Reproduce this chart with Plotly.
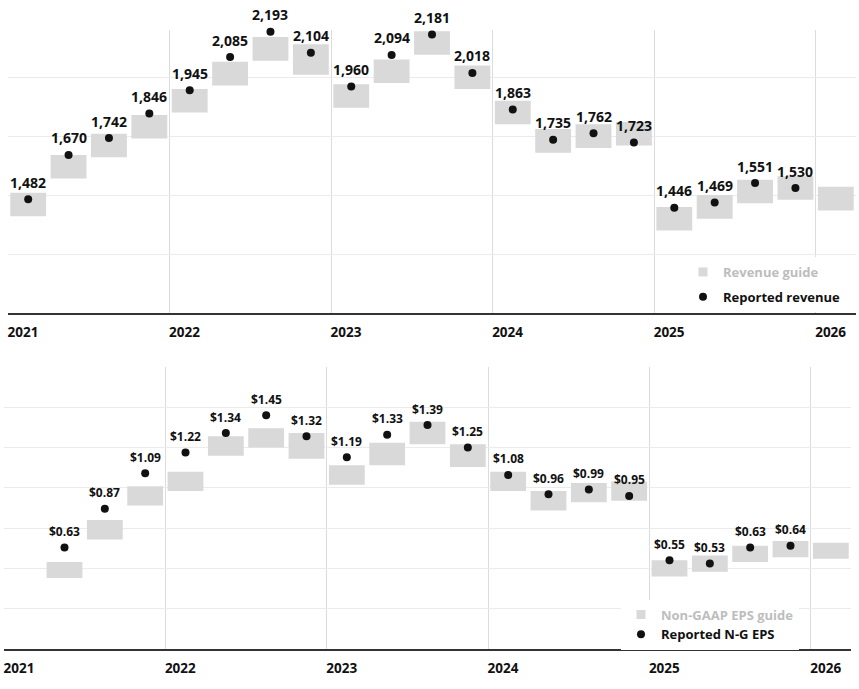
import plotly.graph_objects as go

# ---- Quarterly revenue ($M): guidance range and reported result ----
rev_quarters = [
    "Q1 2021", "Q2 2021", "Q3 2021", "Q4 2021",
    "Q1 2022", "Q2 2022", "Q3 2022", "Q4 2022",
    "Q1 2023", "Q2 2023", "Q3 2023", "Q4 2023",
    "Q1 2024", "Q2 2024", "Q3 2024", "Q4 2024",
    "Q1 2025", "Q2 2025", "Q3 2025", "Q4 2025",
    "Q1 2026",
]
rev_guide_low = [1410, 1570, 1660, 1740, 1850, 1965, 2070, 2010, 1870, 1975, 2095,
                 1950, 1800, 1680, 1700, 1710, 1350, 1400, 1465, 1480, 1435]
rev_guide_high = [1510, 1670, 1760, 1840, 1950, 2065, 2170, 2140, 1970, 2075, 2195,
                  2050, 1900, 1780, 1800, 1810, 1450, 1500, 1565, 1580, 1535]
rev_reported = [1482, 1670, 1742, 1846, 1945, 2085, 2193, 2104, 1960, 2094, 2181,
                2018, 1863, 1735, 1762, 1723, 1446, 1469, 1551, 1530]

# ---- Quarterly non-GAAP EPS ($): guidance range and reported result ----
eps_quarters = [
    "Q2 2021", "Q3 2021", "Q4 2021",
    "Q1 2022", "Q2 2022", "Q3 2022", "Q4 2022",
    "Q1 2023", "Q2 2023", "Q3 2023", "Q4 2023",
    "Q1 2024", "Q2 2024", "Q3 2024", "Q4 2024",
    "Q1 2025", "Q2 2025", "Q3 2025", "Q4 2025",
    "Q1 2026",
]
eps_guide_low = [0.44, 0.68, 0.89, 0.98, 1.20, 1.25, 1.18, 1.02, 1.14, 1.27,
                 1.13, 0.98, 0.86, 0.91, 0.92, 0.45, 0.48, 0.54, 0.57, 0.56]
eps_guide_high = [0.54, 0.80, 1.01, 1.10, 1.32, 1.37, 1.34, 1.14, 1.28, 1.41,
                  1.27, 1.10, 0.98, 1.03, 1.04, 0.55, 0.58, 0.64, 0.67, 0.66]
eps_reported = [0.63, 0.87, 1.09, 1.22, 1.34, 1.45, 1.32, 1.19, 1.33, 1.39,
                1.25, 1.08, 0.96, 0.99, 0.95, 0.55, 0.53, 0.63, 0.64]

years = [2021, 2022, 2023, 2024, 2025, 2026]
year_labels = ["2021", "2022", "2023", "2024", "2025", "2026"]


def quarter_mid(label):
    """Map 'Qn YYYY' to the middle of that quarter on a fractional-year axis."""
    q, y = label.split()
    return int(y) + (int(q[1]) - 1) * 0.25 + 0.125


FONT = "Open Sans"
GUIDE_GRAY = "#d9d9d9"
LEGEND_GRAY = "#bdbdbd"
INK = "#111111"
W, H = 859, 689

rev_x = [quarter_mid(q) for q in rev_quarters]
eps_x = [quarter_mid(q) for q in eps_quarters]

fig = go.Figure()

# Revenue guidance ranges as floating bars
fig.add_trace(go.Bar(
    x=rev_x, base=rev_guide_low,
    y=[h - l for h, l in zip(rev_guide_high, rev_guide_low)],
    width=0.222, marker=dict(color=GUIDE_GRAY, line=dict(width=0)),
    showlegend=False, xaxis="x", yaxis="y", hoverinfo="skip",
))
fig.add_trace(go.Scatter(
    x=rev_x[:len(rev_reported)], y=rev_reported, mode="markers",
    marker=dict(color=INK, size=8),
    cliponaxis=False, showlegend=False, xaxis="x", yaxis="y",
))
# legend entries for the revenue panel
fig.add_trace(go.Scatter(
    x=[None], y=[None], mode="markers",
    marker=dict(symbol="square", color=GUIDE_GRAY, size=9),
    name=f"<span style='color:{LEGEND_GRAY}'>Revenue guide</span>",
    legend="legend", legendgroup="g1", xaxis="x", yaxis="y",
))
fig.add_trace(go.Scatter(
    x=[None], y=[None], mode="markers",
    marker=dict(symbol="circle", color=INK, size=8),
    name="Reported revenue", legend="legend", legendgroup="g2",
    xaxis="x", yaxis="y",
))

# EPS guidance ranges as floating bars
fig.add_trace(go.Bar(
    x=eps_x, base=eps_guide_low,
    y=[h - l for h, l in zip(eps_guide_high, eps_guide_low)],
    width=0.222, marker=dict(color=GUIDE_GRAY, line=dict(width=0)),
    showlegend=False, xaxis="x2", yaxis="y2", hoverinfo="skip",
))
fig.add_trace(go.Scatter(
    x=eps_x[:len(eps_reported)], y=eps_reported, mode="markers",
    marker=dict(color=INK, size=8),
    cliponaxis=False, showlegend=False, xaxis="x2", yaxis="y2",
))
fig.add_trace(go.Scatter(
    x=[None], y=[None], mode="markers",
    marker=dict(symbol="square", color=GUIDE_GRAY, size=9),
    name=f"<span style='color:{LEGEND_GRAY}'>Non-GAAP EPS guide</span>",
    legend="legend2", xaxis="x2", yaxis="y2",
))
fig.add_trace(go.Scatter(
    x=[None], y=[None], mode="markers",
    marker=dict(symbol="circle", color=INK, size=8),
    name="Reported N-G EPS", legend="legend2", xaxis="x2", yaxis="y2",
))

# value labels above each reported point
annotations = []
for x, v in zip(rev_x, rev_reported):
    annotations.append(dict(
        x=x, y=v, xref="x", yref="y", text=f"{v:,}", showarrow=False,
        yanchor="middle", yshift=17,
        font=dict(family=FONT, size=14, color=INK, weight=700),
    ))
for x, v in zip(eps_x, eps_reported):
    annotations.append(dict(
        x=x, y=v, xref="x2", yref="y2", text=f"${v:.2f}", showarrow=False,
        yanchor="middle", yshift=16,
        font=dict(family=FONT, size=12, color=INK, weight=700),
    ))

xaxis_common = dict(
    range=[2021, 2026.25], tickvals=years, ticktext=year_labels,
    showgrid=True, gridcolor="#dcdcdc", gridwidth=1, zeroline=False,
    showline=True, linecolor="#333333", linewidth=2, ticks="",
    tickfont=dict(family=FONT, size=13.5, color=INK, weight=700),
    ticklabelshift=15, ticklabelstandoff=6, automargin=False,
)
yaxis_common = dict(
    showticklabels=False, showgrid=True, gridcolor="#ebebeb", gridwidth=1,
    zeroline=False, showline=False, ticks="", automargin=False,
)

fig.update_layout(
    width=W, height=H,
    margin=dict(l=0, r=0, t=0, b=0),
    paper_bgcolor="white", plot_bgcolor="white",
    barmode="overlay",
    annotations=annotations,
    xaxis=dict(xaxis_common, domain=[8 / W, 856 / W], anchor="y"),
    yaxis=dict(yaxis_common, domain=[1 - 313 / H, 1 - 30 / H],
               range=[1000, 2200], tickvals=[1250, 1500, 1750, 2000], anchor="x"),
    xaxis2=dict(xaxis_common, domain=[4 / W, 851 / W], anchor="y2"),
    yaxis2=dict(yaxis_common, domain=[1 - 649 / H, 1 - 367 / H],
                range=[0, 1.75], tickvals=[0.25, 0.5, 0.75, 1.0, 1.25, 1.5, 1.75],
                anchor="x2"),
    legend=dict(
        x=846 / W, xanchor="right", y=1 - 312 / H, yanchor="bottom",
        bgcolor="white", borderwidth=0, traceorder="grouped", tracegroupgap=5,
        font=dict(family=FONT, size=13, color=INK, weight=700),
    ),
    legend2=dict(
        x=799 / W, xanchor="right", y=1 - 649.5 / H, yanchor="bottom",
        bgcolor="white", borderwidth=0,
        font=dict(family=FONT, size=13, color=INK, weight=700),
    ),
)

fig.write_html("out.html")
